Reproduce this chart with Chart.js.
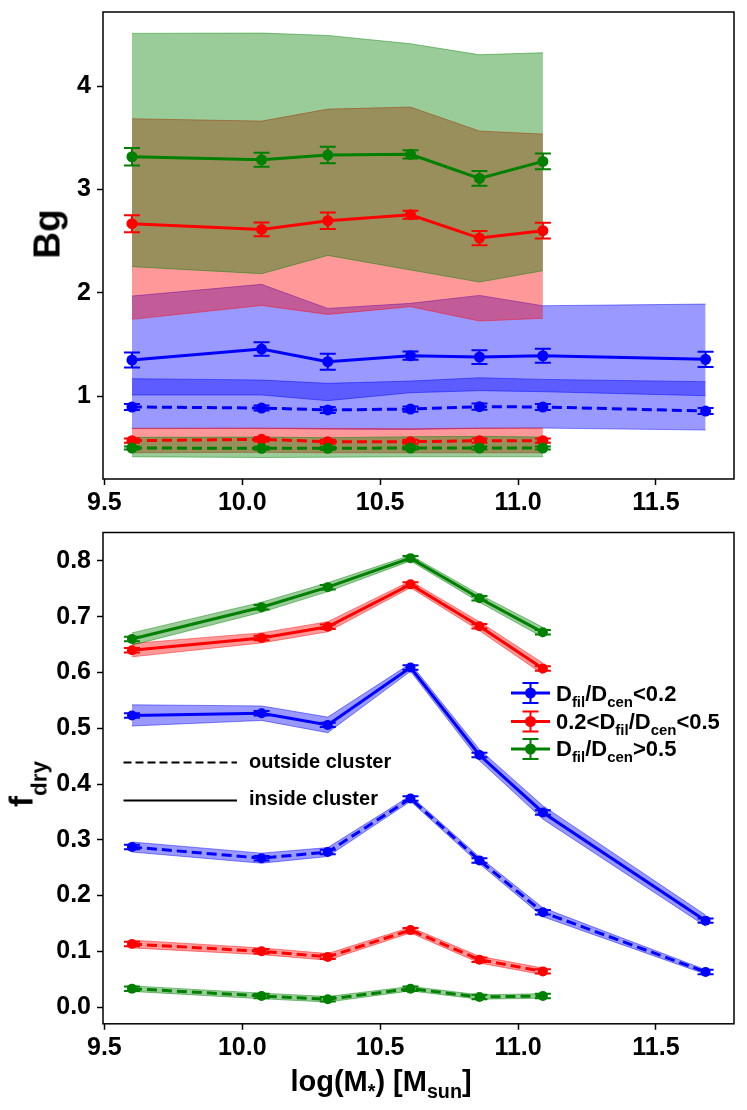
<!DOCTYPE html>
<html><head><meta charset="utf-8">
<script src="https://cdn.jsdelivr.net/npm/chart.js@4.4.0/dist/chart.umd.min.js"></script>
<style>
html,body{margin:0;padding:0;background:#fff;}
#wrap{position:relative;width:747px;height:1110px;overflow:hidden;font-family:'Liberation Sans',Arial,sans-serif;font-weight:bold;color:#000;}
canvas{position:absolute;left:0;}
.t{position:absolute;white-space:nowrap;line-height:1;transform:translateY(-50%);}
.c{transform:translate(-50%,-50%);}
.r{transform:translate(-50%,-50%) rotate(-90deg);}
.s{position:relative;font-size:0.68em;top:0.38em;}
</style></head><body>
<div id="wrap">
<canvas id="c1" width="747" height="520" style="top:0"></canvas>
<canvas id="c2" width="747" height="590" style="top:520px"></canvas>
<div class="t r" style="left:47px;top:234px;font-size:37px">Bg</div>
<div class="t r" style="left:21px;top:784px;font-size:33px">f<span class="s" style="top:0.62em">dry</span></div>
<div class="t c" style="left:381px;top:1081px;font-size:29px">log(M<span class="s">*</span>) [M<span class="s">sun</span>]</div>
<div class="t" style="left:556px;top:694px;font-size:22px">D<span class="s">fil</span>/D<span class="s">cen</span>&lt;0.2</div>
<div class="t" style="left:556px;top:722px;font-size:22px">0.2&lt;D<span class="s">fil</span>/D<span class="s">cen</span>&lt;0.5</div>
<div class="t" style="left:556px;top:749px;font-size:22px">D<span class="s">fil</span>/D<span class="s">cen</span>&gt;0.5</div>
<div class="t" style="left:249px;top:761px;font-size:20px">outside cluster</div>
<div class="t" style="left:249px;top:798px;font-size:20px">inside cluster</div>
</div>
<script>
// ---------- data ----------
const massBins = [9.60, 10.07, 10.31, 10.61, 10.86, 11.09, 11.68];
const xTickVals = [9.5, 10.0, 10.5, 11.0, 11.5];
const bgTickVals = [1, 2, 3, 4];
const fdTickVals = [0.0, 0.1, 0.2, 0.3, 0.4, 0.5, 0.6, 0.7, 0.8];

// top panel: Bg (inside cluster = solid, outside = dashed)
const bgInBlue   = [1.348, 1.455, 1.332, 1.390, 1.377, 1.390, 1.355];
const bgInBlueErr= [0.073, 0.066, 0.077, 0.040, 0.066, 0.068, 0.073];
const bgInRed    = [2.668, 2.613, 2.697, 2.755, 2.529, 2.600];
const bgInRedErr = [0.082, 0.066, 0.080, 0.039, 0.069, 0.076];
const bgInGreen  = [3.316, 3.287, 3.332, 3.339, 3.106, 3.271];
const bgInGreenErr=[0.084, 0.068, 0.080, 0.039, 0.071, 0.076];
const bgOutBlue  = [0.894, 0.884, 0.865, 0.874, 0.897, 0.894, 0.855];
const bgOutBlueErr=[0.030, 0.025, 0.030, 0.025, 0.030, 0.028, 0.030];
const bgOutRed   = [0.568, 0.581, 0.558, 0.558, 0.568, 0.568];
const bgOutRedErr= [0.020, 0.020, 0.020, 0.020, 0.020, 0.020];
const bgOutGreen = [0.497, 0.494, 0.494, 0.497, 0.497, 0.497];
const bgOutGreenErr=[0.015, 0.015, 0.015, 0.015, 0.015, 0.015];

const bgInBlueHi  = [1.968, 2.081, 1.848, 1.897, 1.974, 1.874, 1.890];
const bgInBlueLo  = [1.010, 1.010, 0.955, 1.032, 1.052, 1.042, 1.003];
const bgOutBlueHi = [1.168, 1.155, 1.123, 1.145, 1.177, 1.161, 1.139];
const bgOutBlueLo = [0.687, 0.687, 0.680, 0.677, 0.687, 0.690, 0.671];
const bgInRedHi   = [3.684, 3.661, 3.777, 3.797, 3.565, 3.535];
const bgInRedLo   = [1.742, 1.877, 1.790, 1.865, 1.726, 1.752];
const bgOutRedHi  = [0.687, 0.690, 0.687, 0.684, 0.690, 0.690];
const bgOutRedLo  = [0.451, 0.455, 0.451, 0.451, 0.451, 0.451];
const bgInGreenHi = [4.510, 4.513, 4.490, 4.410, 4.303, 4.323];
const bgInGreenLo = [2.252, 2.184, 2.361, 2.220, 2.103, 2.213];
const bgOutGreenHi= [0.600, 0.603, 0.597, 0.606, 0.610, 0.603];
const bgOutGreenLo= [0.412, 0.405, 0.408, 0.412, 0.412, 0.412];

// bottom panel: f_dry
const fdInBlue   = [0.523, 0.527, 0.506, 0.609, 0.452, 0.349, 0.155];
const fdInRed    = [0.640, 0.662, 0.682, 0.758, 0.683, 0.607];
const fdInGreen  = [0.660, 0.717, 0.753, 0.805, 0.733, 0.672];
const fdOutBlue  = [0.287, 0.267, 0.278, 0.374, 0.263, 0.170, 0.063];
const fdOutRed   = [0.113, 0.100, 0.090, 0.138, 0.085, 0.064];
const fdOutGreen = [0.033, 0.020, 0.014, 0.033, 0.018, 0.020];
const fdInBlueErr  = [0.004, 0.004, 0.004, 0.004, 0.004, 0.004, 0.004];
const fdInRedErr   = [0.004, 0.004, 0.004, 0.004, 0.004, 0.004];
const fdInGreenErr = [0.004, 0.004, 0.004, 0.004, 0.004, 0.004];
const fdOutBlueErr = [0.004, 0.004, 0.004, 0.004, 0.004, 0.004, 0.004];
const fdOutRedErr  = [0.004, 0.004, 0.004, 0.004, 0.004, 0.004];
const fdOutGreenErr= [0.004, 0.004, 0.004, 0.004, 0.004, 0.004];

const fdInBlueHi  = [0.542, 0.540, 0.520, 0.616, 0.462, 0.361, 0.165];
const fdInBlueLo  = [0.504, 0.514, 0.492, 0.602, 0.442, 0.337, 0.145];
const fdInRedHi   = [0.652, 0.671, 0.691, 0.764, 0.691, 0.617];
const fdInRedLo   = [0.628, 0.653, 0.673, 0.752, 0.675, 0.597];
const fdInGreenHi = [0.671, 0.726, 0.761, 0.810, 0.740, 0.681];
const fdInGreenLo = [0.649, 0.708, 0.745, 0.800, 0.726, 0.663];
const fdOutBlueHi = [0.296, 0.276, 0.286, 0.379, 0.269, 0.178, 0.067];
const fdOutBlueLo = [0.278, 0.258, 0.270, 0.369, 0.257, 0.162, 0.059];
const fdOutRedHi  = [0.120, 0.106, 0.096, 0.143, 0.091, 0.070];
const fdOutRedLo  = [0.106, 0.094, 0.084, 0.133, 0.079, 0.058];
const fdOutGreenHi= [0.038, 0.025, 0.019, 0.037, 0.022, 0.024];
const fdOutGreenLo= [0.028, 0.015, 0.009, 0.029, 0.014, 0.016];

// ---------- helpers ----------
const BLUE = '0,0,255', RED = '255,0,0', GREEN = '0,128,0';
const FONT = "'Liberation Sans', Arial, sans-serif";
function pts(vals){ return vals.map((v,i)=>({x:massBins[i], y:v})); }
function band(hi, lo, rgb, order){
  return [
    {data:pts(hi), borderColor:`rgba(${rgb},0.45)`, borderWidth:1, backgroundColor:`rgba(${rgb},0.4)`, fill:'+1', pointRadius:0, order:order},
    {data:pts(lo), borderColor:`rgba(${rgb},0.45)`, borderWidth:1, backgroundColor:'rgba(0,0,0,0)', fill:false, pointRadius:0, order:order-1}
  ];
}
function line(vals, errs, rgb, dashed, order, r){
  return {data:pts(vals), errors:errs, borderColor:`rgb(${rgb})`, backgroundColor:`rgb(${rgb})`,
    borderWidth:3, borderDash:dashed?[10,5]:[], pointRadius:r, pointBorderWidth:0,
    pointBackgroundColor:`rgb(${rgb})`, fill:false, order:order, tension:0};
}

const errorBars = {
  id:'errorBars',
  afterDatasetDraw(chart, args){
    const ds = chart.data.datasets[args.index];
    if(!ds.errors) return;
    const ctx = chart.ctx, ys = chart.scales.y;
    const cap = 8;
    ctx.save();
    ctx.strokeStyle = ds.borderColor; ctx.lineWidth = 2; ctx.setLineDash([]);
    args.meta.data.forEach((pt,i)=>{
      const v = ds.data[i].y, e = ds.errors[i];
      const y1 = ys.getPixelForValue(v+e), y2 = ys.getPixelForValue(v-e);
      ctx.beginPath();
      ctx.moveTo(pt.x,y1); ctx.lineTo(pt.x,y2);
      ctx.moveTo(pt.x-cap,y1); ctx.lineTo(pt.x+cap,y1);
      ctx.moveTo(pt.x-cap,y2); ctx.lineTo(pt.x+cap,y2);
      ctx.stroke();
    });
    ctx.restore();
  }
};
const frame = {
  id:'frame',
  afterDraw(chart){
    const a = chart.chartArea, ctx = chart.ctx;
    ctx.save(); ctx.strokeStyle='#000'; ctx.lineWidth=1.5;
    ctx.strokeRect(a.left, a.top, a.right-a.left, a.bottom-a.top);
    ctx.restore();
  }
};
const handles = {
  id:'handles',
  afterDraw(chart, args, opts){
    if(!opts.items) return;
    const ctx = chart.ctx;
    ctx.save();
    opts.items.forEach(it=>{
      ctx.strokeStyle = it.color; ctx.fillStyle = it.color;
      ctx.setLineDash(it.dash || []);
      ctx.lineWidth = it.lw;
      ctx.beginPath(); ctx.moveTo(it.x0, it.y); ctx.lineTo(it.x1, it.y); ctx.stroke();
      ctx.setLineDash([]);
      if(it.marker){
        const xm = (it.x0+it.x1)/2;
        ctx.lineWidth = 2;
        ctx.beginPath();
        ctx.moveTo(xm, it.y-10); ctx.lineTo(xm, it.y+10);
        ctx.moveTo(xm-8, it.y-10); ctx.lineTo(xm+8, it.y-10);
        ctx.moveTo(xm-8, it.y+10); ctx.lineTo(xm+8, it.y+10);
        ctx.stroke();
        ctx.beginPath(); ctx.arc(xm, it.y, 5.5, 0, Math.PI*2); ctx.fill();
      }
    });
    ctx.restore();
  }
};

function axes(yMin, yMax, yTicks, yDigits, xHeight){
  const tickFont = {family:FONT, size:25, weight:'bold'};
  const grid = {drawOnChartArea:false, drawTicks:true, tickLength:6, tickWidth:1.5, tickColor:'#000'};
  return {
    x:{type:'linear', min:9.495, max:11.783,
       afterBuildTicks:s=>{ s.ticks = xTickVals.map(v=>({value:v})); },
       afterFit:s=>{ s.height = xHeight; s.paddingLeft = 0; s.paddingRight = 0; },
       ticks:{callback:v=>Number(v).toFixed(1), font:tickFont, color:'#000', padding:3, maxRotation:0, autoSkip:false},
       grid:grid, border:{display:false}},
    y:{type:'linear', min:yMin, max:yMax,
       afterBuildTicks:s=>{ s.ticks = yTicks.map(v=>({value:v})); },
       afterFit:s=>{ s.width = 103; s.paddingTop = 0; s.paddingBottom = 0; },
       ticks:{callback:v=>Number(v).toFixed(yDigits), font:tickFont, color:'#000', padding:6, autoSkip:false},
       grid:grid, border:{display:false}}
  };
}

// ---------- top chart ----------
new Chart(document.getElementById('c1'), {
  type:'line',
  data:{datasets:[
    ...band(bgInBlueHi, bgInBlueLo, BLUE, 100),
    ...band(bgOutBlueHi, bgOutBlueLo, BLUE, 98),
    ...band(bgInRedHi, bgInRedLo, RED, 96),
    ...band(bgOutRedHi, bgOutRedLo, RED, 94),
    ...band(bgInGreenHi, bgInGreenLo, GREEN, 92),
    ...band(bgOutGreenHi, bgOutGreenLo, GREEN, 90),
    line(bgOutBlue, bgOutBlueErr, BLUE, true, 20, 5.5),
    line(bgInBlue, bgInBlueErr, BLUE, false, 19, 5.5),
    line(bgOutRed, bgOutRedErr, RED, true, 18, 5.5),
    line(bgInRed, bgInRedErr, RED, false, 17, 5.5),
    line(bgOutGreen, bgOutGreenErr, GREEN, true, 16, 5.5),
    line(bgInGreen, bgInGreenErr, GREEN, false, 15, 5.5)
  ]},
  options:{
    responsive:false, animation:false, events:[],
    layout:{padding:{top:12, right:13, left:0, bottom:0}},
    scales:axes(0.197, 4.717, bgTickVals, 0, 41),
    plugins:{legend:{display:false}, tooltip:{enabled:false}}
  },
  plugins:[errorBars, frame]
});

// ---------- bottom chart ----------
new Chart(document.getElementById('c2'), {
  type:'line',
  data:{datasets:[
    ...band(fdInBlueHi, fdInBlueLo, BLUE, 100),
    ...band(fdOutBlueHi, fdOutBlueLo, BLUE, 98),
    ...band(fdInRedHi, fdInRedLo, RED, 96),
    ...band(fdOutRedHi, fdOutRedLo, RED, 94),
    ...band(fdInGreenHi, fdInGreenLo, GREEN, 92),
    ...band(fdOutGreenHi, fdOutGreenLo, GREEN, 90),
    line(fdOutBlue, fdOutBlueErr, BLUE, true, 20, 5),
    line(fdInBlue, fdInBlueErr, BLUE, false, 19, 5),
    line(fdOutRed, fdOutRedErr, RED, true, 18, 5),
    line(fdInRed, fdInRedErr, RED, false, 17, 5),
    line(fdOutGreen, fdOutGreenErr, GREEN, true, 16, 5),
    line(fdInGreen, fdInGreenErr, GREEN, false, 15, 5)
  ]},
  options:{
    responsive:false, animation:false, events:[],
    layout:{padding:{top:12.5, right:13, left:0, bottom:0}},
    scales:axes(-0.030, 0.851, fdTickVals, 1, 86.2),
    plugins:{legend:{display:false}, tooltip:{enabled:false},
      handles:{items:[
        {x0:511, x1:550, y:173, color:'rgb(0,0,255)', lw:3, marker:true},
        {x0:511, x1:550, y:201.5, color:'rgb(255,0,0)', lw:3, marker:true},
        {x0:511, x1:550, y:229, color:'rgb(0,128,0)', lw:3, marker:true},
        {x0:123.5, x1:237, y:242.5, color:'#000', lw:2, dash:[8,4]},
        {x0:123.5, x1:237, y:280.5, color:'#000', lw:2}
      ]}}
  },
  plugins:[errorBars, frame, handles]
});
</script>
</body></html>
